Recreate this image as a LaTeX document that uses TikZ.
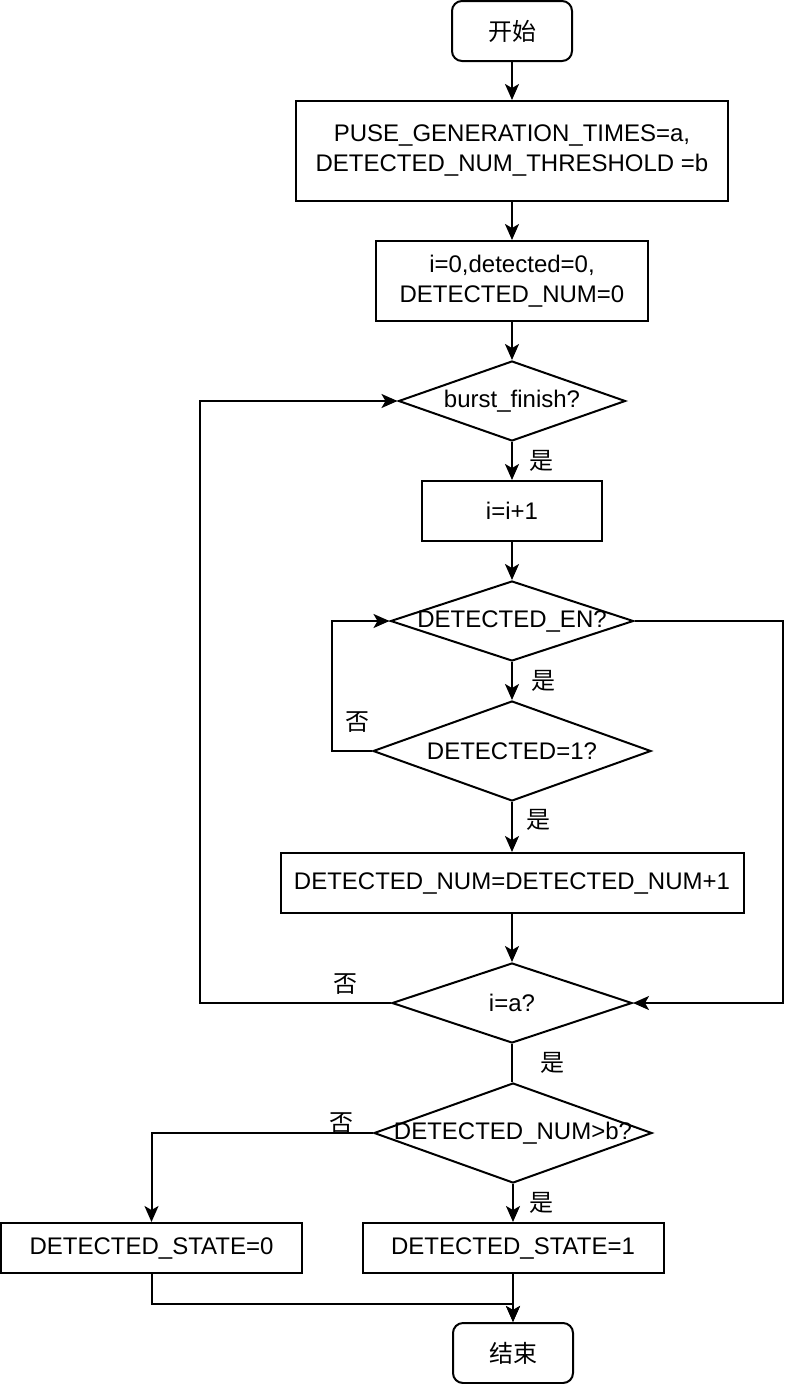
\documentclass[tikz,border=0pt]{standalone}
\usepackage{fontspec}
\setmainfont{Liberation Sans}
\newfontfamily\cjk{Noto Sans CJK SC}
\usetikzlibrary{shapes.geometric, arrows.meta}

\begin{document}
\begin{tikzpicture}[x=1pt, y=-1pt, line width=2pt,
  >={Stealth[length=16pt, width=14pt, inset=4pt]},
  every node/.style={font=\fontsize{24}{30}\selectfont},
  term/.style={draw, rounded corners=10pt, minimum width=120pt, minimum height=60pt, inner sep=0pt},
  proc/.style={draw, inner sep=0pt, align=center},
  cond/.style={draw, diamond, inner sep=0pt},
  lbl/.style={font=\fontsize{24}{30}\selectfont\cjk, inner sep=2pt}]
\useasboundingbox (0,0) rectangle (798,1384);

\node [term] (start) at (512,31) {\cjk 开始};
\node [proc, minimum width=432pt, minimum height=100pt] (par) at (512,151) {PUSE\_GENERATION\_TIMES=a,\\DETECTED\_NUM\_THRESHOLD =b};
\node [proc, minimum width=272pt, minimum height=80pt] (init) at (512,281) {i=0,detected=0,\\DETECTED\_NUM=0};
\node [cond, minimum width=227pt, minimum height=80pt] (burst) at (512,401) {\makebox[0pt]{burst\_finish?}};
\node [proc, minimum width=180pt, minimum height=60pt] (inc) at (512,511) {i=i+1};
\node [cond, minimum width=243pt, minimum height=80pt] (en) at (512,621) {\makebox[0pt]{DETECTED\_EN?}};
\node [cond, minimum width=278pt, minimum height=100pt] (det) at (512,751) {\makebox[0pt]{DETECTED=1?}};
\node [proc, minimum width=463pt, minimum height=60pt] (add) at (512,883) {DETECTED\_NUM=DETECTED\_NUM+1};
\node [cond, minimum width=240pt, minimum height=80pt] (last) at (512,1003) {\makebox[0pt]{i=a?}};
\node [cond, minimum width=278pt, minimum height=100pt] (cmp) at (513,1133) {\makebox[0pt]{DETECTED\_NUM>b?}};
\node [proc, minimum width=301pt, minimum height=50pt] (st0) at (151.5,1248) {DETECTED\_STATE=0};
\node [proc, minimum width=301pt, minimum height=50pt] (st1) at (513,1248) {DETECTED\_STATE=1};
\node [term] (stop) at (513,1353) {\cjk 结束};

\draw [->] (start) -- (par);
\draw [->] (par) -- (init);
\draw [->] (init) -- (burst);
\draw [->] (burst) -- (inc) node [lbl, midway, right=14pt] {是};
\draw [->] (inc) -- (en);
\draw [->] (en) -- (det) node [lbl, midway, right=16pt] {是};
\draw [->] (det.west) -- ++(-40,0) node [lbl, pos=.375, above=16pt] {否} |- (en.west);
\draw [->] (det) -- (add) node [lbl, midway, right=11pt, yshift=7pt] {是};
\draw [->] (add) -- (last);
\draw [->] (en.east) -- ++(148,0) |- (last.east);
\draw [->] (last.west) -- ++(-191,0) node [lbl, pos=.24, above=6pt] {否} |- (burst.west);
\draw (last.south) -- (last.south |- cmp.north) node [lbl, midway, right=25pt] {是};
\draw [->] (cmp.west) -| (st0.north) node [lbl, pos=.07, above, yshift=-3pt] {否};
\draw [->] (cmp) -- (st1) node [lbl, midway, right=13pt] {是};
\draw [->] (st0.south) -- ++(0,30) -| (stop.north);
\draw [->] (st1.south) -- (stop.north);
\end{tikzpicture}
\end{document}
